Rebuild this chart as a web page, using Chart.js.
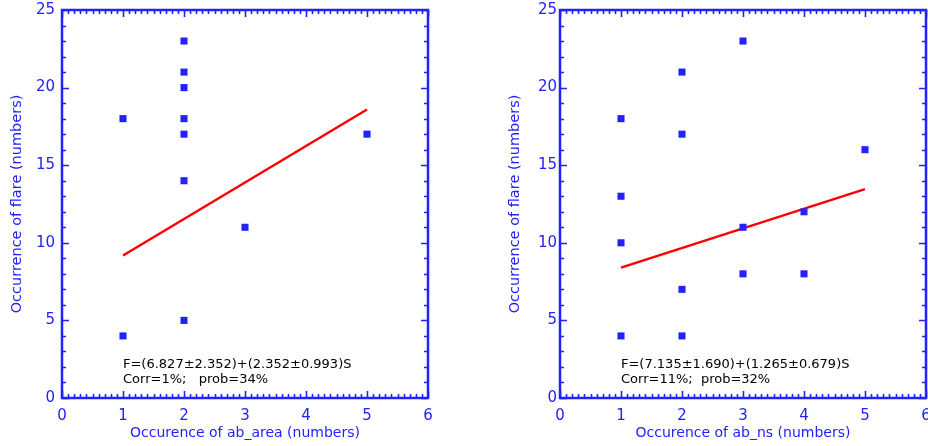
<!DOCTYPE html>
<html>
<head>
<meta charset="utf-8">
<script src="https://cdn.jsdelivr.net/npm/chart.js@4"></script>
<style>
    body { margin: 0; background: #fff; }
    .box { position: absolute; top: 0; width: 464px; height: 446px; }
</style>
</head>
<body>
<div class="box" style="left:0"><canvas id="graficoArea"></canvas></div>
<div class="box" style="left:464px"><canvas id="graficoNs"></canvas></div>
<script>
const azul = "#2222ff";

// ab_area vs flare
const areaX = [1, 1, 2, 2, 2, 2, 2, 2, 2, 3, 5];
const areaY = [18, 4, 23, 21, 20, 18, 17, 14, 5, 11, 17];
const areaFitX = [1, 5];
const areaFitY = [9.18, 18.59];
const areaTexto = ["F=(6.827\u00b12.352)+(2.352\u00b10.993)S", "Corr=1%;   prob=34%"];

// ab_ns vs flare
const nsX = [1, 1, 1, 1, 2, 2, 2, 2, 3, 3, 3, 4, 4, 5];
const nsY = [18, 13, 10, 4, 21, 17, 7, 4, 23, 11, 8, 12, 8, 16];
const nsFitX = [1, 5];
const nsFitY = [8.40, 13.46];
const nsTexto = ["F=(7.135\u00b11.690)+(1.265\u00b10.679)S", "Corr=11%;  prob=32%"];

const xTicks = [0, 1, 2, 3, 4, 5, 6];
const yTicks = [0, 5, 10, 15, 20, 25];

function pares(xs, ys) {
    return xs.map((x, i) => ({ x: x, y: ys[i] }));
}

// moldura com marcas para dentro, estilo IDL
const moldura = {
    id: "moldura",
    afterDraw(chart, args, opts) {
        const ctx = chart.ctx;
        const a = chart.chartArea;
        const sx = chart.scales.x;
        const sy = chart.scales.y;
        ctx.save();
        ctx.strokeStyle = azul;
        ctx.lineWidth = 1.6;
        ctx.beginPath();
        for (let i = 0; i <= 60; i++) {
            const px = Math.round(sx.getPixelForValue(i / 10)) + 0.5;
            const len = i % 10 === 0 ? 7 : 4;
            ctx.moveTo(px, a.bottom); ctx.lineTo(px, a.bottom - len);
            ctx.moveTo(px, a.top); ctx.lineTo(px, a.top + len);
        }
        for (let j = 0; j <= 25; j++) {
            const py = Math.round(sy.getPixelForValue(j)) + 0.5;
            const len = j % 5 === 0 ? 7 : 4;
            ctx.moveTo(a.left, py); ctx.lineTo(a.left + len, py);
            ctx.moveTo(a.right, py); ctx.lineTo(a.right - len, py);
        }
        ctx.stroke();
        ctx.lineWidth = 2.5;
        ctx.strokeRect(a.left, a.top, a.right - a.left, a.bottom - a.top);

        ctx.fillStyle = "black";
        ctx.font = "13px 'DejaVu Sans'";
        ctx.textBaseline = "middle";
        ctx.textAlign = "left";
        const tx = sx.getPixelForValue(1);
        ctx.fillText(opts.texto[0], tx, sy.getPixelForValue(2.13));
        ctx.fillText(opts.texto[1], tx, sy.getPixelForValue(1.16));
        ctx.restore();
    }
};

function grafico(id, xs, ys, fx, fy, texto, yLarg, yPad, tituloPad, xTitulo, dir) {
    return new Chart(document.getElementById(id), {
        type: "scatter",
        data: {
            datasets: [{
                data: pares(xs, ys),
                pointStyle: "rect",
                pointRadius: 5,
                backgroundColor: azul,
                borderColor: azul,
                borderWidth: 0
            }, {
                type: "line",
                data: pares(fx, fy),
                borderColor: "#ff0000",
                borderWidth: 2.5,
                pointRadius: 0,
                fill: false
            }]
        },
        options: {
            responsive: false,
            animation: false,
            events: [],
            layout: {
                autoPadding: false,
                padding: { top: 10, right: dir, left: 0, bottom: 0 }
            },
            plugins: {
                legend: { display: false },
                tooltip: { enabled: false },
                moldura: { texto: texto }
            },
            scales: {
                x: {
                    type: "linear",
                    min: 0,
                    max: 6,
                    afterBuildTicks(s) { s.ticks = xTicks.map(v => ({ value: v })); },
                    afterFit(s) {
                        s.height = 48;
                        s.paddingLeft = 0;
                        s.paddingRight = 0;
                    },
                    grid: { display: false, drawTicks: false },
                    border: { display: false },
                    ticks: { color: azul, padding: 9, font: { family: "DejaVu Sans", size: 15 } },
                    title: {
                        display: true,
                        text: xTitulo,
                        color: azul,
                        padding: { top: 0, bottom: 4 },
                        font: { family: "DejaVu Sans", size: 14 }
                    }
                },
                y: {
                    type: "linear",
                    min: 0,
                    max: 25,
                    afterBuildTicks(s) { s.ticks = yTicks.map(v => ({ value: v })); },
                    afterFit(s) {
                        s.width = yLarg;
                        s.paddingTop = 0;
                        s.paddingBottom = 0;
                    },
                    grid: { display: false, drawTicks: false },
                    border: { display: false },
                    ticks: { color: azul, padding: yPad, font: { family: "DejaVu Sans", size: 15 } },
                    title: {
                        display: true,
                        text: "Occurrence of flare (numbers)",
                        color: azul,
                        padding: { top: tituloPad, bottom: 0 },
                        font: { family: "DejaVu Sans", size: 14.5 }
                    }
                }
            }
        },
        plugins: [moldura]
    });
}

document.getElementById("graficoArea").width = 464;
document.getElementById("graficoArea").height = 446;
document.getElementById("graficoNs").width = 464;
document.getElementById("graficoNs").height = 446;

grafico("graficoArea", areaX, areaY, areaFitX, areaFitY, areaTexto, 62, 7, 9, "Occurence of ab_area (numbers)", 36);
grafico("graficoNs", nsX, nsY, nsFitX, nsFitY, nsTexto, 96, 3, 43, "Occurence of ab_ns (numbers)", 2);
</script>
</body>
</html>
